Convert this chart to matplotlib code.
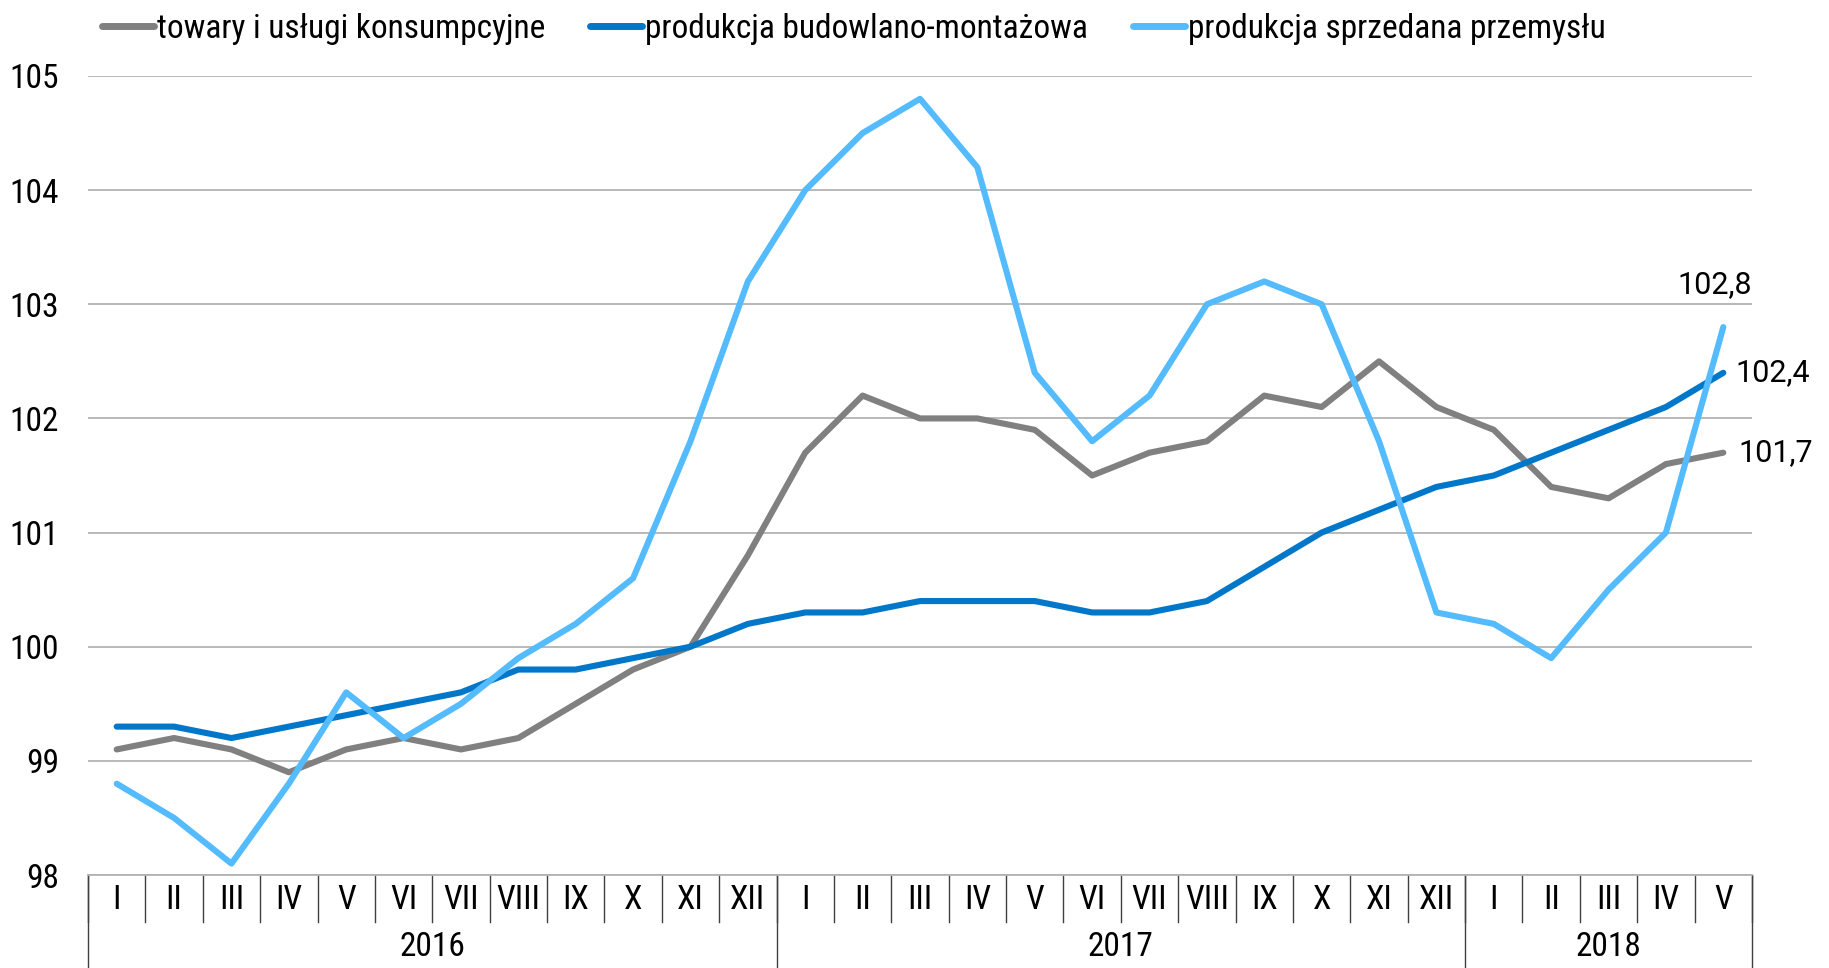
import numpy as np
import matplotlib
matplotlib.use("Agg")
import matplotlib.pyplot as plt
import matplotlib.transforms as mtransforms
from matplotlib.lines import Line2D

# months 2016 I .. 2018 V
months = ["I", "II", "III", "IV", "V", "VI", "VII", "VIII", "IX", "X", "XI", "XII"] * 2 + ["I", "II", "III", "IV", "V"]
years = ["2016", "2017", "2018"]
year_len = [12, 12, 5]

towary = [99.1, 99.2, 99.1, 98.9, 99.1, 99.2, 99.1, 99.2, 99.5, 99.8, 100.0, 100.8,
          101.7, 102.2, 102.0, 102.0, 101.9, 101.5, 101.7, 101.8, 102.2, 102.1, 102.5, 102.1,
          101.9, 101.4, 101.3, 101.6, 101.7]
budowlana = [99.3, 99.3, 99.2, 99.3, 99.4, 99.5, 99.6, 99.8, 99.8, 99.9, 100.0, 100.2,
             100.3, 100.3, 100.4, 100.4, 100.4, 100.3, 100.3, 100.4, 100.7, 101.0, 101.2, 101.4,
             101.5, 101.7, 101.9, 102.1, 102.4]
przemysl = [98.8, 98.5, 98.1, 98.8, 99.6, 99.2, 99.5, 99.9, 100.2, 100.6, 101.8, 103.2,
            104.0, 104.5, 104.8, 104.2, 102.4, 101.8, 102.2, 103.0, 103.2, 103.0, 101.8, 100.3,
            100.2, 99.9, 100.5, 101.0, 102.8]

names = ["towary i usługi konsumpcyjne", "produkcja budowlano-montażowa", "produkcja sprzedana przemysłu"]
colors = ["#808080", "#0077c8", "#55bbff"]

plt.rcParams['font.family'] = ['Roboto Condensed', 'Roboto', 'DejaVu Sans']
fs = 24

fig = plt.figure(figsize=(18.29, 9.68), dpi=100)
ax = fig.add_axes([88 / 1829, 1 - 875 / 968, (1752 - 88) / 1829, (875 - 76) / 968])

x = np.arange(len(months))
for vals, c, n in zip([towary, budowlana, przemysl], colors, names):
    ax.plot(x, vals, color=c, lw=4.4, label=n, solid_capstyle='round', solid_joinstyle='round')

ax.set_xlim(-0.5, len(months) - 0.5)
ax.set_ylim(98, 105)
ax.set_yticks(range(98, 106))
ax.set_xticks([])
ax.grid(axis='y', color='#b3b3b3', lw=1.3)
ax.set_axisbelow(True)
for s in ['top', 'left', 'right']:
    ax.spines[s].set_visible(False)
ax.spines['bottom'].set_color('#b3b3b3')
ax.spines['bottom'].set_linewidth(1.3)
ax.tick_params(axis='y', length=0, pad=21, labelsize=fs)

# category table under the axis
trans = mtransforms.blended_transform_factory(ax.transData, ax.transAxes)
row1 = -0.059
row2 = -0.117
for i, m in enumerate(months):
    ax.text(i, -0.031, m, transform=trans, ha='center', va='center', fontsize=fs)
for b in np.arange(-0.5, len(months), 1.0):
    ax.plot([b, b], [0, row1], transform=trans, color='#404040', lw=1, clip_on=False)
start = -0.5
for y, n in zip(years, year_len):
    ax.text(start + n / 2, -0.09, y, transform=trans, ha='center', va='center', fontsize=fs)
    ax.plot([start, start], [0, row2], transform=trans, color='#404040', lw=1, clip_on=False)
    start += n
ax.plot([start, start], [0, row2], transform=trans, color='#404040', lw=1, clip_on=False)

# end labels
last = len(months) - 1
lab = dict(textcoords='offset points', fontsize=22, family=['Roboto', 'DejaVu Sans'])
ax.annotate(f"{przemysl[-1]:.1f}".replace(".", ","), (last, przemysl[-1]), xytext=(-6, 20),
            ha='center', va='bottom', **lab)
ax.annotate(f"{budowlana[-1]:.1f}".replace(".", ","), (last, budowlana[-1]), xytext=(9, 0),
            ha='left', va='center', **lab)
ax.annotate(f"{towary[-1]:.1f}".replace(".", ","), (last, towary[-1]), xytext=(11, 0),
            ha='left', va='center', **lab)

handles = [Line2D([], [], color=c, lw=5, solid_capstyle='round') for c in colors]
fig.legend(handles, names, loc='upper left', bbox_to_anchor=(72 / 1829, 1.018), ncol=3, frameon=False,
           fontsize=fs, handlelength=1.55, handletextpad=0.1, columnspacing=1.35)

fig.savefig("out.png", dpi=100)
